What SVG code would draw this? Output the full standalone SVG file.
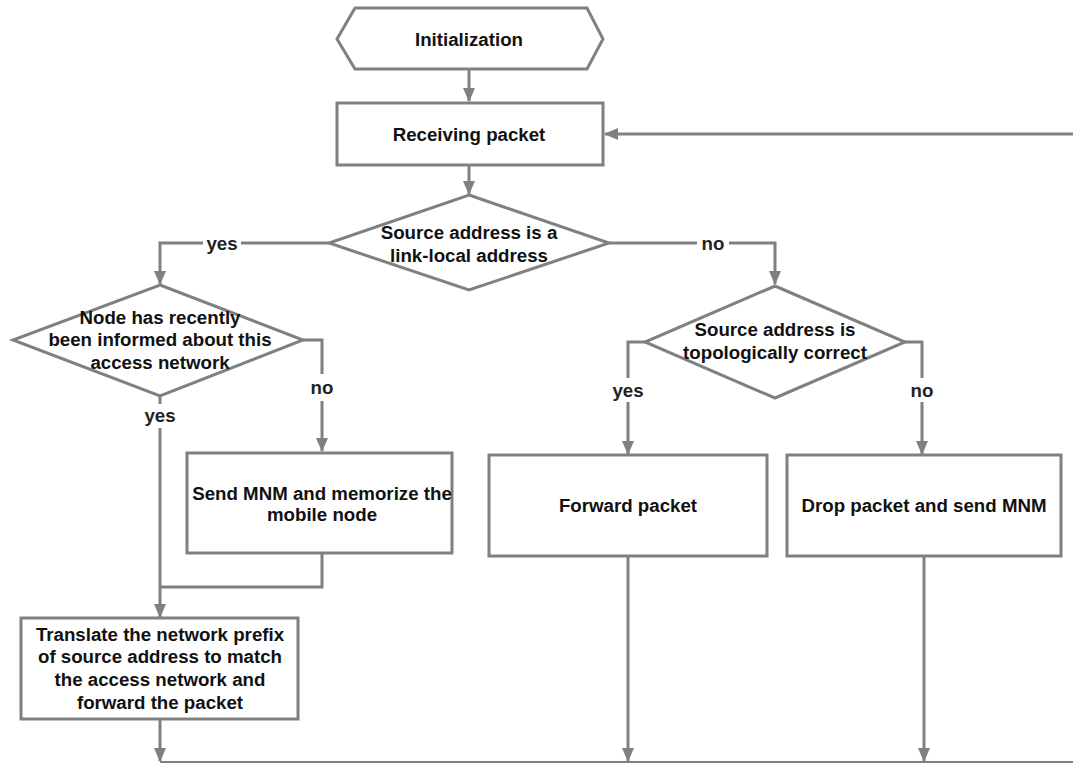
<svg xmlns="http://www.w3.org/2000/svg" width="1073" height="763" viewBox="0 0 1073 763">
<style>
.shape{fill:#fff;stroke:#808080;stroke-width:3}
.con{fill:none;stroke:#808080;stroke-width:3}
text{font-family:"Liberation Sans",Arial,sans-serif;font-weight:bold;font-size:18.7px;fill:#111;text-anchor:middle;dominant-baseline:central}
.lbl{fill:#222}
</style>
<defs>
<marker id="ah" markerUnits="userSpaceOnUse" markerWidth="14" markerHeight="14" viewBox="0 0 14 14" refX="13" refY="7" orient="auto">
<path d="M0,1 L14,7 L0,13 Z" fill="#808080"/>
</marker>
</defs>
<rect width="1073" height="763" fill="#fff"/>
<g id="connectors">
<path class="con" d="M469,69 V101" marker-end="url(#ah)"/>
<path class="con" d="M1073,134 H605" marker-end="url(#ah)"/>
<path class="con" d="M469,165 V194" marker-end="url(#ah)"/>
<path class="con" d="M329,243 H160 V284" marker-end="url(#ah)"/>
<path class="con" d="M609,243 H775 V284" marker-end="url(#ah)"/>
<path class="con" d="M303,340 H322 V374 M322,401 V451" marker-end="url(#ah)"/>
<path class="con" d="M160,396 V404 M160,428 V617" marker-end="url(#ah)"/>
<path class="con" d="M322,554 V587 H160"/>
<path class="con" d="M645,342 H628 V378 M628,402 V454" marker-end="url(#ah)"/>
<path class="con" d="M905,342 H922 V378 M922,402 V454" marker-end="url(#ah)"/>
<path class="con" d="M160,719 V761" marker-end="url(#ah)"/>
<path class="con" d="M628,556 V761" marker-end="url(#ah)"/>
<path class="con" d="M924,556 V761" marker-end="url(#ah)"/>
<path class="con" d="M160,762 H1073" style="stroke-width:2"/>
<rect x="203" y="233" width="38" height="20" fill="#fff"/>
<text class="lbl" x="222" y="243">yes</text>
<rect x="697" y="233" width="32" height="20" fill="#fff"/>
<text class="lbl" x="713" y="243">no</text>
<text class="lbl" x="160" y="415">yes</text>
<text class="lbl" x="322" y="387">no</text>
<text class="lbl" x="628" y="390">yes</text>
<text class="lbl" x="922" y="390">no</text>
</g>
<g id="init">
<polygon class="shape" points="337,39 355,8 587,8 603,39 587,69 355,69"/>
<text x="469" y="39">Initialization</text>
</g>
<g id="receive">
<rect class="shape" x="337" y="103" width="266" height="62"/>
<text x="469" y="134">Receiving packet</text>
</g>
<g id="linklocal">
<polygon class="shape" points="469,195 609,243 469,290 329,243"/>
<text x="469" y="232">Source address is a</text>
<text x="469" y="255">link-local address</text>
</g>
<g id="informed">
<polygon class="shape" points="160,285 303,340 160,396 13,340"/>
<text x="160" y="317">Node has recently</text>
<text x="160" y="339">been informed about this</text>
<text x="160" y="362">access network</text>
</g>
<g id="topo">
<polygon class="shape" points="775,286 905,342 775,398 645,342"/>
<text x="775" y="329">Source address is</text>
<text x="775" y="352">topologically correct</text>
</g>
<g id="sendmnm">
<rect class="shape" x="187" y="453" width="265" height="100"/>
<text x="322" y="493">Send MNM and memorize the</text>
<text x="322" y="514">mobile node</text>
</g>
<g id="forward">
<rect class="shape" x="489" y="455" width="278" height="101"/>
<text x="628" y="505">Forward packet</text>
</g>
<g id="drop">
<rect class="shape" x="787" y="455" width="274" height="101"/>
<text x="924" y="505">Drop packet and send MNM</text>
</g>
<g id="translate">
<rect class="shape" x="21" y="618" width="277" height="101"/>
<text x="160" y="634">Translate the network prefix</text>
<text x="160" y="656">of source address to match</text>
<text x="160" y="679">the access network and</text>
<text x="160" y="702">forward the packet</text>
</g>
</svg>
